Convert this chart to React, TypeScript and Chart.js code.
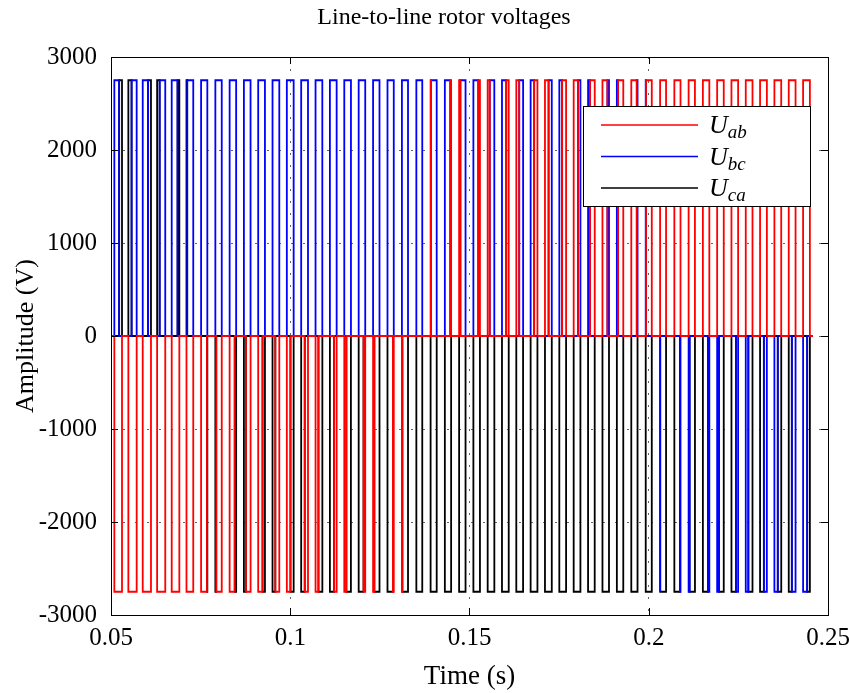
import React, { useEffect, useRef } from "react";
import { Chart, registerables } from "chart.js";

Chart.register(...registerables);

// ---- data (times in ms) ----
const slotCentersMs = [52, 56, 60, 64, 68, 72, 76, 80, 84, 88, 92, 96, 100, 104, 108, 112, 116, 120, 124, 128, 132, 136, 140, 144, 148, 152, 156, 160, 164, 168, 172, 176, 180, 184, 188, 192, 196, 200, 204, 208, 212, 216, 220, 224, 228, 232, 236, 240, 244];

// signed pulse widths per switching slot (ms); sign = polarity of the pulse
const uabWidthMs = [-2.14, -2.32, -2.30, -2.27, -2.13, -1.89, -1.64, -1.53, -1.42, -1.30, -1.21, -1.11, -1.01, -0.91, -0.81, -0.70, -0.58, -0.47, -0.35, -0.24, -0.12, 0, 0.12, 0.24, 0.35, 0.47, 0.58, 0.70, 0.81, 0.91, 1.01, 1.11, 1.21, 1.30, 1.38, 1.46, 1.53, 1.60, 1.66, 1.72, 1.76, 1.80, 1.84, 1.86, 1.88, 1.90, 1.90, 1.90, 1.89];
const ubcWidthMs = [1.34, 1.42, 1.50, 1.57, 1.63, 1.69, 1.74, 1.78, 1.82, 1.85, 1.88, 1.89, 1.90, 1.90, 1.89, 1.88, 1.86, 1.83, 1.79, 1.75, 1.70, 1.65, 1.58, 1.51, 1.44, 1.36, 1.27, 1.18, 1.09, 0.99, 0.89, 0.78, 0.67, 0.56, 0.44, 0.33, 0.21, 0.09, -0.03, -0.15, -0.27, -0.38, -0.50, -0.61, -0.72, -0.83, -0.94, -1.04, -1.14];
const ucaWidthMs = [0.80, 0.90, 0.80, 0.70, 0.50, 0.20, -0.10, -0.25, -0.40, -0.56, -0.67, -0.78, -0.89, -0.99, -1.09, -1.18, -1.27, -1.36, -1.44, -1.51, -1.58, -1.65, -1.70, -1.75, -1.79, -1.83, -1.86, -1.88, -1.89, -1.90, -1.90, -1.89, -1.88, -1.85, -1.82, -1.79, -1.74, -1.69, -1.63, -1.57, -1.50, -1.42, -1.34, -1.25, -1.16, -1.06, -0.97, -0.86, -0.75];

const pulseLevelV = 2750;
const traceStartMs = 50;
const traceEndMs = 245.8;

const seriesLabels = ["ab", "bc", "ca"];
const seriesColors = ["#ff0000", "#0000ff", "#000000"];

const titleText = "Line-to-line rotor voltages";
const xTitleText = "Time (s)";
const yTitleText = "Amplitude (V)";

const xTicks = [0.05, 0.1, 0.15, 0.2, 0.25];
const xTickLabels = ["0.05", "0.1", "0.15", "0.2", "0.25"];
const yTicks = [-3000, -2000, -1000, 0, 1000, 2000, 3000];
const yTickLabels = ["-3000", "-2000", "-1000", "0", "1000", "2000", "3000"];

const FONT = '"Liberation Serif", "Times New Roman", serif';

type Pulse = [number, number, number];

function buildPulses(): Pulse[][] {
  const widths = [uabWidthMs, ubcWidthMs, ucaWidthMs];
  const out: Pulse[][] = [[], [], []];
  slotCentersMs.forEach((c, k) => {
    const w = widths.map((arr) => arr[k]);
    let main = 0;
    for (let i = 1; i < 3; i++) if (Math.abs(w[i]) > Math.abs(w[main])) main = i;
    const half = Math.abs(w[main]) / 2;
    const s = c - half;
    out[main].push([s, c + half, Math.sign(w[main])]);
    const others = [0, 1, 2].filter((i) => i !== main);
    if (k % 2 === 1) others.reverse();
    let cur = s;
    for (const i of others) {
      const len = Math.abs(w[i]);
      if (len > 0.02) out[i].push([cur, cur + len, Math.sign(w[i])]);
      cur += len;
    }
  });
  return out;
}

function toPoints(pulses: Pulse[]) {
  const pts: { x: number; y: number }[] = [{ x: traceStartMs / 1000, y: 0 }];
  for (const [s, e, sg] of pulses) {
    const s2 = Math.max(s, traceStartMs);
    const e2 = Math.min(e, traceEndMs);
    if (e2 <= s2) continue;
    pts.push(
      { x: s2 / 1000, y: 0 },
      { x: s2 / 1000, y: sg * pulseLevelV },
      { x: e2 / 1000, y: sg * pulseLevelV },
      { x: e2 / 1000, y: 0 }
    );
  }
  pts.push({ x: traceEndMs / 1000, y: 0 });
  return pts;
}

const framePlugin = {
  id: "matlabFrame",
  afterDatasetsDraw(chart: any) {
    const { ctx, chartArea } = chart;
    const { left, right, top, bottom } = chartArea;
    const xs = chart.scales.x;
    const ys = chart.scales.y;
    ctx.save();
    ctx.strokeStyle = "#000";
    ctx.lineWidth = 1;
    ctx.strokeRect(Math.round(left) + 0.5, Math.round(top) + 0.5, Math.round(right - left), Math.round(bottom - top));
    const tl = 7;
    ctx.beginPath();
    for (const v of xTicks) {
      const px = Math.round(xs.getPixelForValue(v)) + 0.5;
      ctx.moveTo(px, bottom);
      ctx.lineTo(px, bottom - tl);
      ctx.moveTo(px, top);
      ctx.lineTo(px, top + tl);
    }
    for (const v of yTicks) {
      const py = Math.round(ys.getPixelForValue(v)) + 0.5;
      ctx.moveTo(left, py);
      ctx.lineTo(left + tl, py);
      ctx.moveTo(right, py);
      ctx.lineTo(right - tl, py);
    }
    ctx.stroke();
    ctx.restore();
  },
  afterDraw(chart: any) {
    const { ctx } = chart;
    ctx.save();
    // title
    ctx.fillStyle = "#000";
    ctx.textAlign = "center";
    ctx.textBaseline = "middle";
    ctx.font = `24px ${FONT}`;
    ctx.fillText(titleText, 444, 18);
    // legend
    const bx = 583, by = 106, bw = 227, bh = 100;
    ctx.fillStyle = "#fff";
    ctx.fillRect(bx, by, bw, bh);
    ctx.strokeStyle = "#000";
    ctx.lineWidth = 1;
    ctx.strokeRect(bx + 0.5, by + 0.5, bw, bh);
    const rows = [125, 156.5, 188];
    rows.forEach((ry, i) => {
      ctx.strokeStyle = seriesColors[i];
      ctx.lineWidth = 1.6;
      ctx.beginPath();
      ctx.moveTo(601, ry);
      ctx.lineTo(698, ry);
      ctx.stroke();
      ctx.fillStyle = "#000";
      ctx.textBaseline = "alphabetic";
      ctx.textAlign = "left";
      ctx.font = `italic 26px ${FONT}`;
      ctx.fillText("U", 709, ry + 8);
      const uw = ctx.measureText("U").width;
      ctx.font = `italic 19px ${FONT}`;
      ctx.fillText(seriesLabels[i], 709 + uw, ry + 13);
    });
    ctx.restore();
  },
};

export default function App() {
  const canvasRef = useRef<HTMLCanvasElement | null>(null);

  useEffect(() => {
    const canvas = canvasRef.current;
    if (!canvas) return;
    const pulses = buildPulses();
    const datasets = pulses.map((p, i) => ({
      label: "U_" + seriesLabels[i],
      data: toPoints(p),
      borderColor: seriesColors[i],
      backgroundColor: seriesColors[i],
      borderWidth: 1.8,
      pointRadius: 0,
      fill: false,
      tension: 0,
    }));

    const chart = new Chart(canvas, {
      type: "line",
      data: { datasets },
      plugins: [framePlugin],
      options: {
        responsive: false,
        animation: false,
        events: [],
        layout: { padding: { top: 57, right: 21, bottom: 0, left: 0 } },
        plugins: {
          legend: { display: false },
          tooltip: { enabled: false },
          title: { display: false },
        },
        scales: {
          x: {
            type: "linear",
            min: 0.05,
            max: 0.25,
            afterBuildTicks: (s: any) => {
              s.ticks = xTicks.map((v) => ({ value: v }));
            },
            afterFit: (s: any) => {
              s.height = 78;
              s.paddingLeft = 0;
              s.paddingRight = 0;
            },
            ticks: {
              autoSkip: false,
              maxRotation: 0,
              color: "#000",
              padding: 8,
              font: { family: FONT, size: 25 },
              callback: (_v: any, i: number) => xTickLabels[i],
            },
            grid: { color: "rgba(0,0,0,0.6)", lineWidth: 1, drawTicks: false },
            border: { display: false, dash: [2, 10] },
            title: {
              display: true,
              text: xTitleText,
              color: "#000",
              font: { family: FONT, size: 27 },
              padding: { top: 0, bottom: 0 },
            },
          },
          y: {
            type: "linear",
            min: -3000,
            max: 3000,
            afterBuildTicks: (s: any) => {
              s.ticks = yTicks.map((v) => ({ value: v }));
            },
            afterFit: (s: any) => {
              s.width = 111;
              s.paddingTop = 0;
              s.paddingBottom = 0;
            },
            ticks: {
              color: "#000",
              padding: 14,
              font: { family: FONT, size: 25 },
              callback: (_v: any, i: number) => yTickLabels[i],
            },
            grid: { color: "rgba(0,0,0,0.6)", lineWidth: 1, drawTicks: false },
            border: { display: false, dash: [2, 10] },
            title: {
              display: true,
              text: yTitleText,
              color: "#000",
              font: { family: FONT, size: 26 },
              padding: { top: 11, bottom: 0 },
            },
          },
        },
      } as any,
    });
    return () => chart.destroy();
  }, []);

  return (
    <div style={{ position: "fixed", left: 0, top: 0, width: 849, height: 693, background: "#fff" }}>
      <canvas ref={canvasRef} width={849} height={693} style={{ display: "block" }} />
    </div>
  );
}
